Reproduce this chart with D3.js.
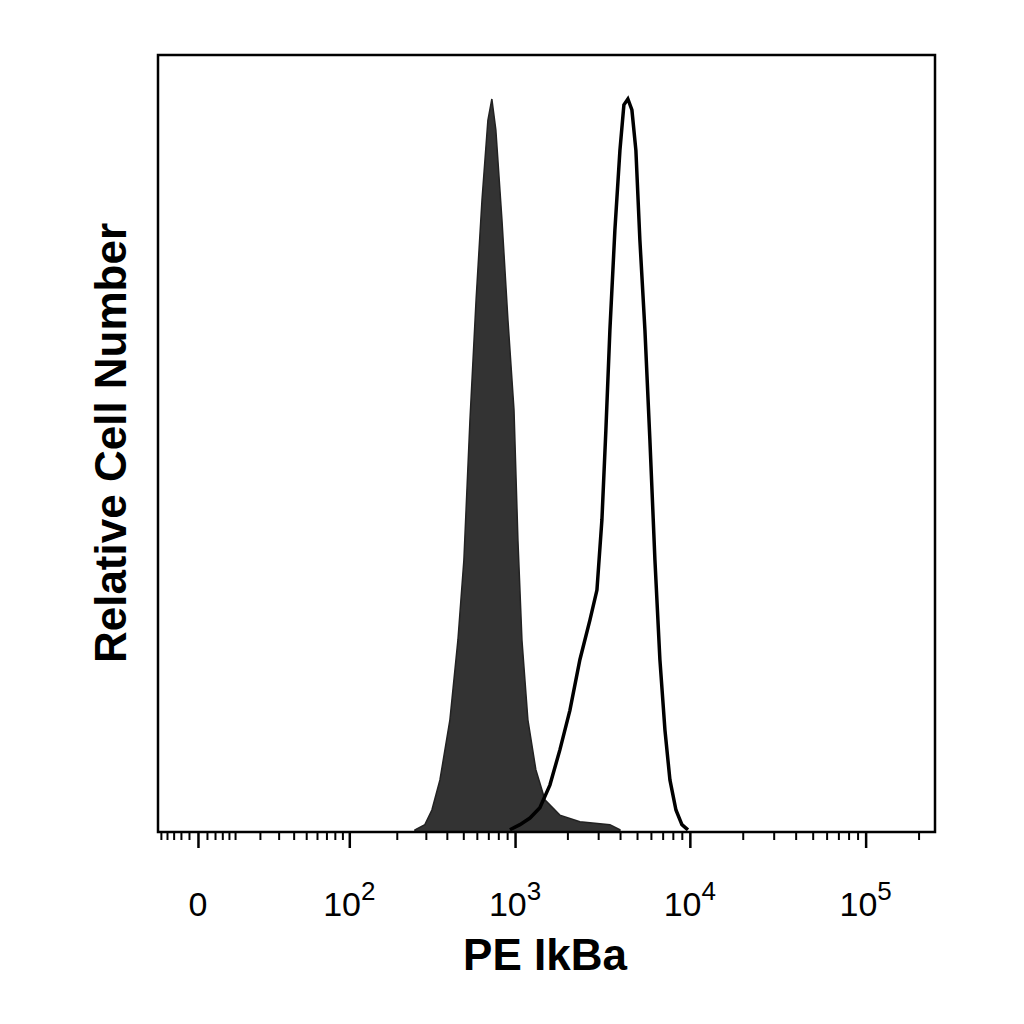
<!DOCTYPE html>
<html>
<head>
<meta charset="UTF-8">
<script src="https://cdnjs.cloudflare.com/ajax/libs/d3/7.8.5/d3.min.js"></script>
<style>
  body { margin: 0; background: #fff; }
  text { font-family: "Liberation Sans", Arial, sans-serif; }
</style>
</head>
<body>
<script>
// control (filled) histogram: fluorescence, relative count
const controlX = [258,296,326,364,417,465,504,547,594,643,696,734,774,840,910,986,1039,1096,1186,1318,1486,1811,2358,3501,3994];
const controlY = [0.3,1,3,7.1,15.3,26.2,37.1,56.2,72.6,86.2,97.1,100,95.8,83.5,69.8,57.6,39.8,26.2,15.3,8.5,4.4,2.3,1.4,1,0.3];
// stained (outline) histogram
const stainX = [934,1067,1219,1390,1587,1811,2067,2358,2691,2952,3152,3320,3501,3738,3994,4208,4434,4675,4926,5190,5546,5920,6325,6752,7214,7701,8333,9013,9754];
const stainY = [0.3,1,1.9,3.3,6.4,11.2,16.6,23.5,28.9,33,42.6,54.8,68.5,82.1,93,99.2,100,98.5,93,80.8,68.5,53.5,37.1,23.5,13.9,7.1,3,1,0.3];
const majorTicks = [0, 100, 1000, 10000, 100000];
const majorLabels = [["0",""],["10","2"],["10","3"],["10","4"],["10","5"]];

const W = 1024, H = 1024;
const m = {left: 158, right: 935, top: 55, bottom: 832};
const svg = d3.select("body").append("svg").attr("width", W).attr("height", H);

const x = d3.scaleSymlog().constant(16).domain([-11, 248000]).range([m.left, m.right]);
const y = d3.scaleLinear().domain([0, 106]).range([m.bottom, m.top]);

const line = d3.line().x(d => x(d[0])).y(d => y(d[1]));
const area = d3.area().x(d => x(d[0])).y0(y(0)).y1(d => y(d[1]));

const ctl = controlX.map((v, i) => [v, controlY[i]]);
const stn = stainX.map((v, i) => [v, stainY[i]]);

svg.append("path").datum(ctl).attr("d", area).attr("fill", "#333").attr("stroke", "#222").attr("stroke-width", 1.5);
svg.append("path").datum(stn).attr("d", line).attr("fill", "none").attr("stroke", "#000").attr("stroke-width", 3.5);

svg.append("rect").attr("x", m.left).attr("y", m.top)
  .attr("width", m.right - m.left).attr("height", m.bottom - m.top)
  .attr("fill", "none").attr("stroke", "#000").attr("stroke-width", 2.5);

// minor ticks
const minor = [];
for (let v = -10; v <= 10; v += 2) if (v !== 0) minor.push(v);
for (let p = 1; p <= 5; p++) for (let k = 2; k <= 9; k++) {
  const v = k * Math.pow(10, p);
  if (v < 248000) minor.push(v);
}
svg.append("g").attr("transform", `translate(0,${m.bottom})`)
  .call(d3.axisBottom(x).tickValues(minor).tickSize(8).tickFormat(""))
  .call(g => g.select(".domain").remove())
  .call(g => g.selectAll("line").attr("stroke-width", 2));
svg.append("g").attr("transform", `translate(0,${m.bottom})`)
  .call(d3.axisBottom(x).tickValues(majorTicks).tickSize(16).tickFormat(""))
  .call(g => g.select(".domain").remove())
  .call(g => g.selectAll("line").attr("stroke-width", 2.5));

const lab = svg.append("g");
majorTicks.forEach((v, i) => {
  const t = lab.append("text").attr("x", x(v)).attr("y", 916)
    .attr("text-anchor", "middle").attr("font-size", 34);
  t.append("tspan").text(majorLabels[i][0]);
  if (majorLabels[i][1]) t.append("tspan").attr("dy", -16).attr("font-size", 26).text(majorLabels[i][1]);
});

svg.append("text").attr("x", 545).attr("y", 970).attr("text-anchor", "middle")
  .attr("font-size", 44).attr("font-weight", "bold").text("PE IkBa");
svg.append("text").attr("transform", "translate(126,443) rotate(-90)").attr("text-anchor", "middle")
  .attr("font-size", 44).attr("font-weight", "bold").text("Relative Cell Number");
</script>
</body>
</html>
